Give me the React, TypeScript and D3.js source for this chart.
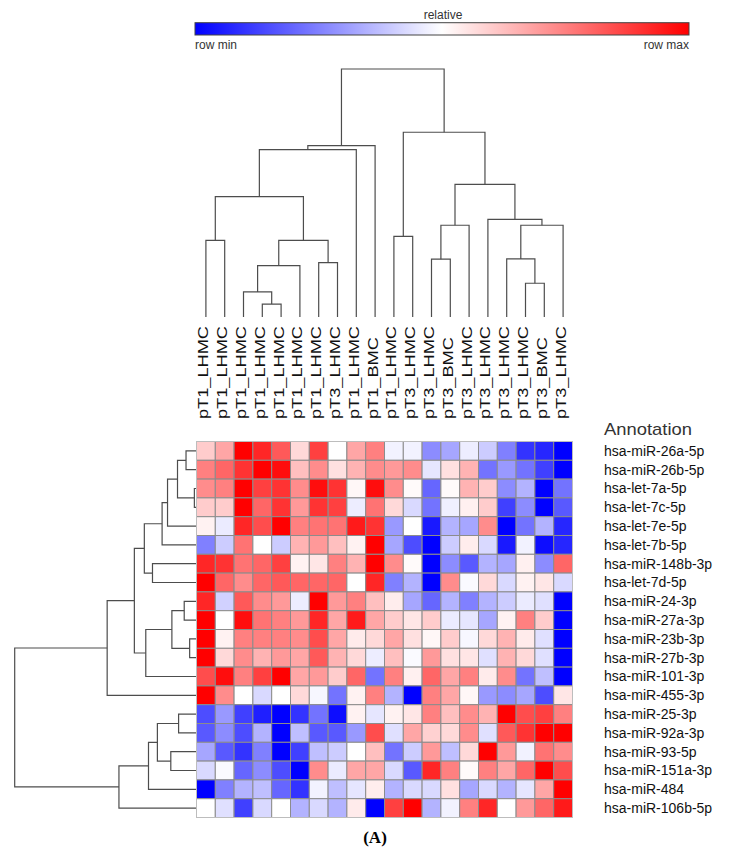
import React from "react";
import * as d3 from "d3";

const colLabels = [
  "pT1_LHMC", "pT1_LHMC", "pT1_LHMC", "pT1_LHMC", "pT1_LHMC",
  "pT1_LHMC", "pT1_LHMC", "pT3_LHMC", "pT1_LHMC", "pT1_BMC",
  "pT1_LHMC", "pT3_LHMC", "pT3_LHMC", "pT3_BMC", "pT3_LHMC",
  "pT3_LHMC", "pT3_LHMC", "pT3_LHMC", "pT3_BMC", "pT3_LHMC",
];

const rowLabels = [
  "hsa-miR-26a-5p", "hsa-miR-26b-5p", "hsa-let-7a-5p", "hsa-let-7c-5p",
  "hsa-let-7e-5p", "hsa-let-7b-5p", "hsa-miR-148b-3p", "hsa-let-7d-5p",
  "hsa-miR-24-3p", "hsa-miR-27a-3p", "hsa-miR-23b-3p", "hsa-miR-27b-3p",
  "hsa-miR-101-3p", "hsa-miR-455-3p", "hsa-miR-25-3p", "hsa-miR-92a-3p",
  "hsa-miR-93-5p", "hsa-miR-151a-3p", "hsa-miR-484", "hsa-miR-106b-5p",
];

// relative expression per row (-1 = row min, +1 = row max)
const values: number[][] = [
  [0.2, 0.35, 1.0, 0.85, 0.65, 0.15, 0.75, 0.0, 0.35, 0.5, -0.05, -0.05, -0.45, -0.35, -0.07, -0.2, -0.5, -0.8, -0.85, -1.0],
  [0.5, 0.6, 0.8, 1.0, 0.95, 0.25, 0.45, 0.12, 0.3, 0.45, 0.4, 0.45, -0.1, 0.12, 0.3, -0.55, -0.4, -0.55, -0.75, -1.0],
  [0.45, 0.5, 1.0, 0.75, 0.8, 0.45, 0.95, 0.8, 0.03, 0.95, 0.45, 0.02, -0.6, 0.02, 0.3, 0.2, -0.45, -0.3, -1.0, -0.55],
  [0.2, 0.2, 1.0, 0.6, 0.8, 0.4, 0.8, 0.75, -0.07, 0.55, 0.15, -0.15, -0.55, -0.06, 0.06, 0.2, -0.75, -0.45, -1.0, -0.65],
  [0.05, -0.08, 0.85, 0.7, 1.0, 0.5, 0.55, 0.55, 0.9, 0.8, -0.4, 0.0, -0.9, -0.3, -0.35, 0.45, -1.0, -0.55, -0.3, -0.85],
  [-0.5, -0.2, 0.55, 0.0, -0.2, 0.3, 0.4, 0.25, 0.05, 1.0, -0.35, -0.7, -1.0, -0.2, 0.07, -0.15, -0.9, -0.05, -0.95, -0.85],
  [0.85, 0.8, 0.55, 0.6, 0.75, 0.05, 0.1, 0.5, 0.3, 1.0, 0.45, 0.02, -1.0, -0.45, -0.65, -0.3, -0.35, 0.06, -0.45, 0.6],
  [1.0, 0.6, 0.45, 0.6, 0.65, 0.6, 0.6, 0.6, 0.0, 0.85, -0.5, -0.3, -1.0, 0.45, -0.02, 0.15, -0.15, 0.05, 0.1, -0.15],
  [0.85, -0.18, 0.65, 0.45, 0.4, -0.07, 1.0, 0.4, 0.5, 0.25, 0.07, -0.35, -0.6, -0.3, -0.5, -0.3, -0.2, -0.08, -0.12, -1.0],
  [1.0, 0.0, 0.95, 0.55, 0.5, 0.4, 0.85, 0.35, 0.9, 0.35, 0.2, 0.1, 0.2, -0.08, -0.1, -0.35, 0.05, 0.5, 0.2, -1.0],
  [1.0, 0.05, 0.5, 0.5, 0.5, 0.45, 0.7, 0.35, 0.08, 0.15, 0.35, 0.12, 0.03, 0.2, -0.03, 0.15, 0.3, 0.08, -0.12, -1.0],
  [1.0, 0.15, 0.45, 0.3, 0.4, 0.35, 0.65, 0.3, 0.15, -0.07, 0.25, -0.02, 0.4, 0.12, 0.1, -0.12, 0.3, 0.15, -0.12, -1.0],
  [0.7, 0.95, 0.5, 0.75, 1.0, 0.35, 0.4, 0.2, 0.6, -0.55, 0.5, 0.06, 0.6, 0.35, 0.5, 0.08, 0.45, -0.55, -0.25, -1.0],
  [1.0, 0.45, 0.0, -0.15, 0.0, 0.15, -0.03, -0.55, 0.05, 0.5, -0.3, -1.0, 0.5, 0.35, 0.03, -0.4, -0.45, -0.35, -0.7, 0.1],
  [-0.7, -0.4, -0.75, -0.88, -1.0, -0.8, -0.55, -0.95, 0.05, -0.1, 0.05, 0.1, 0.5, 0.25, 0.45, 0.3, 1.0, 0.7, 0.75, 0.5],
  [-0.65, -0.45, -0.7, -0.3, -1.0, -0.25, -0.65, -0.65, -0.4, 0.7, -0.12, 0.35, 0.18, 0.15, 0.45, -0.12, 0.65, 0.8, 1.0, 1.0],
  [-0.35, -0.65, -0.8, -0.5, -1.0, -0.75, -0.25, -0.2, 0.0, 0.25, -0.55, -0.2, 0.4, -0.25, 0.15, 1.0, 0.4, -0.05, 0.55, 0.45],
  [-0.15, -0.02, -0.6, -0.45, -0.7, -1.0, 0.45, -0.08, 0.35, 0.35, -0.15, -0.65, 0.85, 0.5, 0.02, 0.5, 0.35, 0.6, 1.0, 0.7],
  [-1.0, -0.5, -0.3, -0.25, -0.6, -0.8, -0.05, -0.25, -0.1, 0.07, -0.3, -0.15, -0.15, 0.12, -0.35, -0.15, -0.3, -0.1, 0.35, 1.0],
  [0.0, -0.12, -0.75, -0.15, 0.0, -0.3, -0.15, -0.3, 0.08, -1.0, 0.75, 1.0, -0.3, -0.05, 0.5, 0.85, 0.0, 0.4, 0.6, 0.9],
];

type Merge = [string, string | number, string | number, number];

// column clustering: [node, left child, right child, merge height]
const colMerges: Merge[] = [
  ["I", 3, 4, 0.052],
  ["H", 2, "I", 0.101],
  ["F", "H", 5, 0.207],
  ["G", 6, 7, 0.219],
  ["E", "F", "G", 0.309],
  ["D", 0, 1, 0.309],
  ["C", "D", "E", 0.485],
  ["B", "C", 8, 0.675],
  ["A", "B", 9, 0.691],
  ["K", 10, 11, 0.325],
  ["O", 12, 13, 0.233],
  ["M", "O", 14, 0.37],
  ["R", 17, 18, 0.136],
  ["Q", 16, "R", 0.234],
  ["P", "Q", 19, 0.37],
  ["N", 15, "P", 0.394],
  ["L", "M", "N", 0.535],
  ["J", "K", "L", 0.745],
  ["root", "A", "J", 1.0],
];

// row clustering
const rowMerges: Merge[] = [
  ["a", 0, 1, 0.055],
  ["b", 2, 3, 0.009],
  ["c", "a", "b", 0.102],
  ["d", "c", 4, 0.157],
  ["e", "d", 5, 0.187],
  ["f", 6, 7, 0.24],
  ["g", "e", "f", 0.285],
  ["h", 8, 9, 0.065],
  ["i", 10, 11, 0.035],
  ["j", "h", "i", 0.133],
  ["k", "j", 12, 0.277],
  ["l", "g", "k", 0.34],
  ["m", "l", 13, 0.49],
  ["o", 14, 15, 0.096],
  ["p", 16, 17, 0.139],
  ["q", "o", "p", 0.213],
  ["r", "q", 18, 0.262],
  ["s", "r", 19, 0.425],
  ["root", "m", "s", 1.0],
];

const colorStops = [-1, 0, 1];
const colorRange = ["#0000ff", "#ffffff", "#ff0000"];

const FONT = "'Liberation Sans', Arial, Helvetica, sans-serif";

type Seg = { p1: number; h1: number; p2: number; h2: number; h: number };

function buildSegments(merges: Merge[], leafPos: (i: number) => number): Seg[] {
  const nodes = new Map<string, { pos: number; h: number }>();
  const get = (c: string | number) =>
    typeof c === "number" ? { pos: leafPos(c), h: 0 } : nodes.get(c)!;
  const segs: Seg[] = [];
  for (const [name, l, r, h] of merges) {
    const a = get(l);
    const b = get(r);
    segs.push({ p1: a.pos, h1: a.h, p2: b.pos, h2: b.h, h });
    nodes.set(name, { pos: (a.pos + b.pos) / 2, h });
  }
  return segs;
}

export default function App() {
  const x = d3.scaleBand<number>().domain(d3.range(colLabels.length)).range([196.5, 572.5]);
  const y = d3.scaleBand<number>().domain(d3.range(rowLabels.length)).range([441.5, 817.5]);
  const color = d3.scaleLinear<string>().domain(colorStops).range(colorRange).interpolate(d3.interpolateRgb);

  const topH = d3.scaleLinear().domain([0, 1]).range([317, 69]);
  const leftH = d3.scaleLinear().domain([0, 1]).range([196, 14.7]);

  const colCenter = (i: number) => (x(i) as number) + x.bandwidth() / 2;
  const rowCenter = (i: number) => (y(i) as number) + y.bandwidth() / 2;

  const colSegs = buildSegments(colMerges, colCenter);
  const rowSegs = buildSegments(rowMerges, rowCenter);

  const barX = d3.scaleLinear().domain([-1, 1]).range([195, 689]);
  const gradStops = d3.range(0, 1.0001, 0.05);

  return (
    <svg
      width={755}
      height={862}
      style={{ position: "absolute", left: 0, top: 0, background: "#fff" }}
      fontFamily={FONT}
    >
      <defs>
        <linearGradient id="relgrad" x1="0" x2="1" y1="0" y2="0">
          {gradStops.map((t) => (
            <stop key={t} offset={t} stopColor={color(-1 + 2 * t)} />
          ))}
        </linearGradient>
      </defs>
      <rect width={755} height={862} fill="#fff" />

      {/* colour legend */}
      <text x={(barX(-1) + barX(1)) / 2 + 1} y={19} fontSize={12} fill="#333" textAnchor="middle">
        relative
      </text>
      <rect
        x={barX(-1)}
        y={22.7}
        width={barX(1) - barX(-1)}
        height={12.3}
        fill="url(#relgrad)"
        stroke="#444"
        strokeWidth={1}
      />
      <text x={barX(-1)} y={48.5} fontSize={12} fill="#333">
        row min
      </text>
      <text x={barX(1)} y={48.5} fontSize={12} fill="#333" textAnchor="end">
        row max
      </text>

      {/* column dendrogram */}
      <g fill="none" stroke="#4d4d4d" strokeWidth={1.2}>
        {colSegs.map((s, i) => (
          <path
            key={i}
            d={`M${s.p1},${topH(s.h1)}V${topH(s.h)}H${s.p2}V${topH(s.h2)}`}
          />
        ))}
      </g>

      {/* column labels */}
      <g fontSize={14} fill="#111">
        {colLabels.map((lab, i) => (
          <text key={i} transform={`translate(${colCenter(i) + 2.5},419) rotate(-90) scale(1.3,1)`}>
            {lab}
          </text>
        ))}
      </g>

      {/* row dendrogram */}
      <g fill="none" stroke="#4d4d4d" strokeWidth={1.2}>
        {rowSegs.map((s, i) => (
          <path
            key={i}
            d={`M${leftH(s.h1)},${s.p1}H${leftH(s.h)}V${s.p2}H${leftH(s.h2)}`}
          />
        ))}
      </g>

      {/* heatmap */}
      <g>
        {values.map((row, r) =>
          row.map((v, c) => (
            <rect
              key={`${r}-${c}`}
              x={x(c)}
              y={y(r)}
              width={x.bandwidth()}
              height={y.bandwidth()}
              fill={color(v)}
              stroke="#8c8c8c"
              strokeWidth={1}
            />
          ))
        )}
        <rect
          x={x.range()[0]}
          y={y.range()[0]}
          width={x.range()[1] - x.range()[0]}
          height={y.range()[1] - y.range()[0]}
          fill="none"
          stroke="#bdbdbd"
          strokeWidth={1}
        />
      </g>

      {/* row labels */}
      <text x={604} y={435} fontSize={17} fill="#333" textLength={88} lengthAdjust="spacingAndGlyphs">
        Annotation
      </text>
      <g fontSize={14} fill="#111">
        {rowLabels.map((lab, i) => (
          <text key={i} x={604} y={rowCenter(i)} dy="0.35em">
            {lab}
          </text>
        ))}
      </g>

      {/* caption */}
      <text
        x={375}
        y={843}
        fontSize={17}
        fontWeight="bold"
        fontFamily="'Liberation Serif', 'Times New Roman', serif"
        textAnchor="middle"
        fill="#000"
      >
        (A)
      </text>
    </svg>
  );
}
